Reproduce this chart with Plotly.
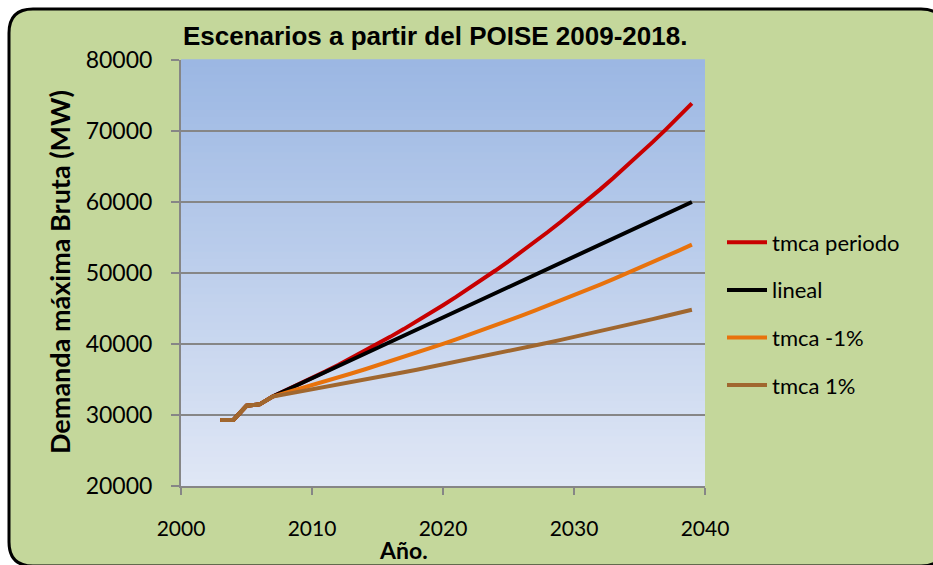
import plotly.graph_objects as go

years = list(range(2003, 2040))

tmca_periodo = [29300, 29300, 31300, 31500, 32600, 33440, 34310, 35200, 36110, 37050,
                38010, 38990, 40000, 41040, 42100, 43190, 44310, 45460, 46630, 47840,
                49080, 50350, 51650, 52990, 54360, 55770, 57220, 58700, 60220, 61780,
                63380, 65020, 66700, 68430, 70200, 72020, 73890]
lineal = [29300, 29300, 31300, 31500, 32600, 33460, 34310, 35170, 36030, 36880,
          37740, 38590, 39450, 40310, 41160, 42020, 42880, 43730, 44590, 45440,
          46300, 47160, 48010, 48870, 49730, 50580, 51440, 52290, 53150, 54010,
          54860, 55720, 56580, 57430, 58290, 59140, 60000]
tmca_menos1 = [29300, 29300, 31300, 31500, 32600, 33120, 33650, 34180, 34720, 35280,
               35840, 36410, 36990, 37570, 38170, 38780, 39390, 40020, 40660, 41300,
               41960, 42630, 43310, 43990, 44690, 45400, 46130, 46860, 47600, 48360,
               49130, 49910, 50710, 51510, 52330, 53160, 54000]
tmca_1 = [29300, 29300, 31300, 31500, 32600, 32930, 33260, 33590, 33920, 34260,
          34610, 34950, 35300, 35650, 36010, 36370, 36740, 37100, 37470, 37850,
          38230, 38610, 39000, 39390, 39780, 40180, 40580, 40980, 41390, 41810,
          42230, 42650, 43070, 43510, 43940, 44380, 44820]

series_names = ["tmca periodo", "lineal", "tmca -1%", "tmca 1%"]
series_values = [tmca_periodo, lineal, tmca_menos1, tmca_1]
series_colors = ["#C80000", "#000000", "#E8720C", "#A0672F"]

x_ticks = [2000, 2010, 2020, 2030, 2040]
x_tick_labels = ["2000", "2010", "2020", "2030", "2040"]
y_ticks = [20000, 30000, 40000, 50000, 60000, 70000, 80000]
y_tick_labels = ["20000", "30000", "40000", "50000", "60000", "70000", "80000"]

title_text = "Escenarios a partir del POISE 2009-2018."
y_title = "Demanda máxima Bruta (MW)"
x_title = "Año."

W, H = 933, 565
L, R, T, B = 181, 705, 60, 486
PW, PH = R - L, B - T

def px(x):
    return (x - L) / PW

def py(y):
    return (B - y) / PH

fig = go.Figure()
for name, vals, col in zip(series_names, series_values, series_colors):
    fig.add_trace(go.Scatter(x=years, y=vals, mode="lines", name=name,
                             legendgroup=name,
                             line=dict(color=col, width=4)))

shapes = []
# rounded green frame
fl, ft, fr, fb, rad = 9, 9, 945, 566, 24
path = (f"M {px(fl+rad)},{py(ft)} L {px(fr-rad)},{py(ft)} "
        f"Q {px(fr)},{py(ft)} {px(fr)},{py(ft+rad)} "
        f"L {px(fr)},{py(fb-rad)} Q {px(fr)},{py(fb)} {px(fr-rad)},{py(fb)} "
        f"L {px(fl+rad)},{py(fb)} Q {px(fl)},{py(fb)} {px(fl)},{py(fb-rad)} "
        f"L {px(fl)},{py(ft+rad)} Q {px(fl)},{py(ft)} {px(fl+rad)},{py(ft)} Z")
shapes.append(dict(type="path", path=path, xref="paper", yref="paper",
                   fillcolor="#C4D79B", line=dict(color="#000000", width=3),
                   layer="below"))
# vertical gradient of plot area
top_c = (155, 183, 227)
bot_c = (224, 231, 245)
N = 60
for i in range(N):
    t = (i + 0.5) / N
    c = tuple(round(bot_c[k] + (top_c[k] - bot_c[k]) * t) for k in range(3))
    shapes.append(dict(type="rect", xref="paper", yref="paper",
                       x0=0, x1=1, y0=i / N, y1=(i + 1) / N + 0.002,
                       fillcolor=f"rgb{c}", line=dict(width=0), layer="below"))

fig.update_layout(
    width=W, height=H,
    margin=dict(l=L, r=W - R, t=T, b=H - B, autoexpand=False),
    paper_bgcolor="white",
    plot_bgcolor="rgb(224,231,245)",
    shapes=shapes,
    font=dict(family="Lato, Carlito, Arial", color="#000000"),
    showlegend=True,
    legend=dict(x=px(722), y=py(314), xanchor="left", yanchor="middle",
                bgcolor="rgba(0,0,0,0)", font=dict(size=22, family="Lato"),
                tracegroupgap=16, itemwidth=40),
    annotations=[
        dict(text=f"<b>{title_text}</b>", x=px(435), y=py(36), xref="paper", yref="paper",
             showarrow=False, xanchor="center", yanchor="middle",
             font=dict(family="Liberation Sans, Arial", size=26)),
        dict(text=f"<b>{y_title}</b>", x=px(59), y=py(272), xref="paper", yref="paper",
             showarrow=False, xanchor="center", yanchor="middle", textangle=-90,
             font=dict(family="Lato", size=27)),
        dict(text=f"<b>{x_title}</b>", x=px(403), y=py(550), xref="paper", yref="paper",
             showarrow=False, xanchor="center", yanchor="middle",
             font=dict(family="Lato", size=23)),
    ],
)
fig.update_xaxes(range=[2000, 2040], tickvals=x_ticks, ticktext=x_tick_labels,
                 showgrid=False, zeroline=False,
                 showline=True, linecolor="#868686", linewidth=2,
                 ticks="outside", ticklen=7, tickwidth=2, tickcolor="#868686",
                 tickfont=dict(size=21, family="Lato"), ticklabelstandoff=16)
fig.update_yaxes(range=[20000, 80000], tickvals=y_ticks, ticktext=y_tick_labels,
                 showgrid=True,
                 gridcolor="#868686", gridwidth=2, zeroline=False,
                 showline=True, linecolor="#868686", linewidth=2,
                 ticks="outside", ticklen=8, tickwidth=2, tickcolor="#868686",
                 tickfont=dict(size=23, family="Lato"), ticklabelstandoff=14)

fig.write_html("out.html", config={"displayModeBar": False},
               post_script="document.body.style.margin='0';document.body.style.padding='0';")
